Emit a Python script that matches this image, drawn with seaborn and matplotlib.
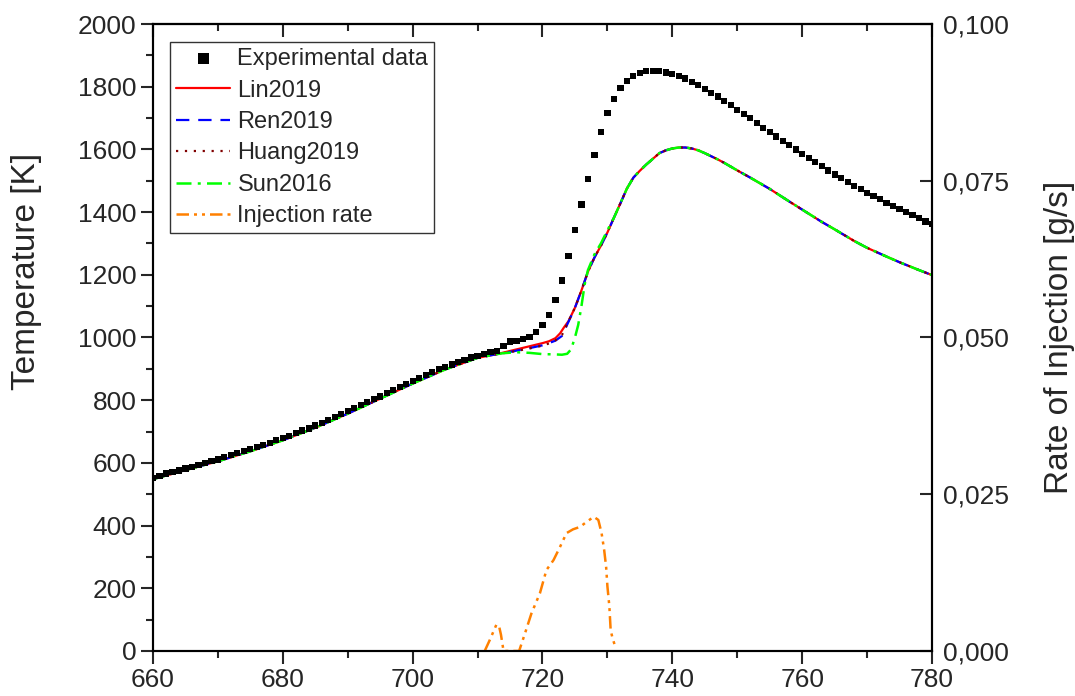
import numpy as np
import pandas as pd
import seaborn as sns
import matplotlib.pyplot as plt
from matplotlib.ticker import MultipleLocator, FuncFormatter

# Experimental temperature, one point per degree 660..780
exp_angle = list(range(660, 781))
exp_temp = [553, 558, 566, 572, 576, 582, 587, 592, 599, 605,
            611, 618, 624, 631, 637, 644, 651, 658, 664, 672,
            679, 687, 695, 703, 710, 719, 728, 738, 746, 756,
            765, 774, 784, 793, 803, 812, 822, 832, 842, 852,
            861, 871, 880, 890, 899, 907, 914, 922, 929, 936,
            941, 947, 953, 958, 974, 987, 990, 995, 1002, 1017,
            1040, 1071, 1119, 1182, 1259, 1342, 1424, 1505, 1581, 1656,
            1715, 1762, 1797, 1819, 1835, 1844, 1850, 1851, 1850, 1845,
            1840, 1834, 1826, 1816, 1805, 1793, 1781, 1769, 1755, 1741,
            1726, 1714, 1699, 1684, 1669, 1655, 1641, 1627, 1613, 1600,
            1586, 1572, 1559, 1546, 1533, 1520, 1509, 1496, 1484, 1473,
            1462, 1451, 1441, 1430, 1419, 1410, 1400, 1390, 1381, 1370,
            1362]

# Model curves
base_angle = [660, 665, 670, 675, 680, 685, 690, 695, 700, 705, 710, 713]
base_temp = [548, 577, 605, 637, 672, 712, 757, 805, 853, 898, 935, 947]

tail_angle = [725, 726, 727, 728, 729, 730, 731, 732, 733, 734, 735, 736,
              737, 738, 739, 740, 741, 742, 743, 744, 745, 746, 747, 748,
              750, 752, 755, 758, 760, 763, 765, 768, 770, 773, 775, 778, 780]
tail_temp = [1095, 1150, 1210, 1255, 1293, 1335, 1382, 1428, 1475, 1510, 1532, 1552,
             1570, 1588, 1597, 1603, 1606, 1606, 1603, 1597, 1588, 1578, 1568, 1557,
             1533, 1510, 1474, 1434, 1408, 1369, 1345, 1308, 1286, 1258, 1240, 1215, 1199]

ren_angle = base_angle + [714, 716, 718, 720, 721, 722, 723, 724] + tail_angle
ren_temp = base_temp + [950, 958, 966, 975, 982, 990, 1005, 1050] + tail_temp

huang_angle = ren_angle
huang_temp = base_temp + [950, 957, 965, 974, 981, 991, 1008, 1052] + tail_temp

lin_angle = base_angle + [714, 716, 718, 720, 721, 722, 722.7, 723.3, 724] + tail_angle
lin_temp = base_temp + [952, 962, 972, 982, 988, 998, 1013, 1032, 1052] + tail_temp

sun_angle = base_angle + [714, 716, 718, 720, 722, 723, 723.8, 724.4, 725, 725.5,
                          726, 726.5, 727, 727.5, 728, 729, 730] + tail_angle[6:]
sun_temp = base_temp + [950, 953, 951, 947, 946, 945, 948, 962, 1000, 1040,
                        1100, 1170, 1215, 1240, 1265, 1300, 1342] + tail_temp[6:]

# Injection rate [g/s]
inj_angle = [711.1, 711.9, 712.9, 713.3, 713.6, 714.0, 716.4, 717.3, 718.3, 719.6,
             720.6, 721.7, 722.7, 723.7, 724.7, 725.8, 726.8, 727.9, 728.6, 729.1,
             729.5, 729.8, 730.0, 730.3, 730.5, 730.8, 731.3]
inj_rate = [0.0, 0.0018, 0.0042, 0.0040, 0.0026, 0.0, 0.0, 0.0028, 0.0060, 0.0092,
            0.0129, 0.0145, 0.0166, 0.0188, 0.0194, 0.0198, 0.0206, 0.0214, 0.0209, 0.0188,
            0.0161, 0.0134, 0.0103, 0.0071, 0.0033, 0.0020, 0.0004]

sns.set_style("ticks")
plt.rcParams['font.family'] = ['Liberation Sans', 'DejaVu Sans']
plt.rcParams['axes.linewidth'] = 1.5

fig = plt.figure(figsize=(10.75, 6.96), dpi=100)
ax = fig.add_axes([0.1423, 0.0647, 0.7247, 0.9008])
ax2 = ax.twinx()

sns.scatterplot(x=exp_angle, y=exp_temp, ax=ax, marker='s', s=20, color='black',
                edgecolor='none', label='Experimental data', zorder=3)
sns.lineplot(x=lin_angle, y=lin_temp, ax=ax, color='#FF0000', lw=1.6,
             label='Lin2019', sort=False)
sns.lineplot(x=ren_angle, y=ren_temp, ax=ax, color='#0000FF', lw=1.6,
             dashes=(6, 4), label='Ren2019', sort=False)
sns.lineplot(x=huang_angle, y=huang_temp, ax=ax, color='#800000', lw=1.6,
             dashes=(1, 3), label='Huang2019', sort=False)
sns.lineplot(x=sun_angle, y=sun_temp, ax=ax, color='#00FF00', lw=1.8,
             dashes=(6, 2.5, 1.2, 2.5), label='Sun2016', sort=False)
sns.lineplot(x=inj_angle, y=inj_rate, ax=ax2, color='#FF8000', lw=1.8,
             dashes=(5, 2, 1.2, 2, 1.2, 2), sort=False, legend=False)
ax.plot([], [], color='#FF8000', lw=1.8, dashes=(5, 2, 1.2, 2, 1.2, 2),
        label='Injection rate')

ax.set_xlim(660, 780)
ax.set_ylim(0, 2000)
ax2.set_ylim(0, 0.1)
ax.xaxis.set_major_locator(MultipleLocator(20))
ax.xaxis.set_minor_locator(MultipleLocator(10))
ax.yaxis.set_major_locator(MultipleLocator(200))
ax.yaxis.set_minor_locator(MultipleLocator(100))
ax2.yaxis.set_major_locator(MultipleLocator(0.025))
ax2.yaxis.set_major_formatter(FuncFormatter(lambda v, p: f"{v:.3f}".replace('.', ',')))

ax.tick_params(axis='both', which='major', direction='out', length=9, width=1.5,
               labelsize=19)
ax.tick_params(axis='both', which='minor', direction='out', length=5, width=1.5)
ax.tick_params(axis='x', which='major', pad=3)
ax.tick_params(axis='y', which='major', pad=3)
ax2.tick_params(axis='y', which='major', direction='in', length=9, width=1.5,
                labelsize=19, pad=8)

# top ticks point inward: draw them with a secondary axis
sec = ax.secondary_xaxis('top')
sec.xaxis.set_major_locator(MultipleLocator(20))
sec.xaxis.set_minor_locator(MultipleLocator(10))
sec.tick_params(which='major', direction='in', length=9, width=1.5, labeltop=False)
sec.tick_params(which='minor', direction='in', length=5, width=1.5)
ax.tick_params(axis='x', which='both', top=False)

ax.set_xlabel('')
ax.set_ylabel('Temperature [K]', fontsize=24)
ax.yaxis.set_label_coords(-0.143, 0.606)
ax2.set_ylabel('Rate of Injection [g/s]', fontsize=24, labelpad=25)

for a in (ax, ax2):
    for s in a.spines.values():
        s.set_linewidth(1.5)
        s.set_color('black')

leg = ax.legend(loc='upper left', bbox_to_anchor=(0.022, 0.971), borderaxespad=0,
                fontsize=17, frameon=True, fancybox=False, edgecolor='black',
                handlelength=2.3, handletextpad=0.3, labelspacing=0.4,
                borderpad=0.25, markerscale=1.8)
leg.get_frame().set_linewidth(1.0)

fig.savefig('out.png', dpi=100)
